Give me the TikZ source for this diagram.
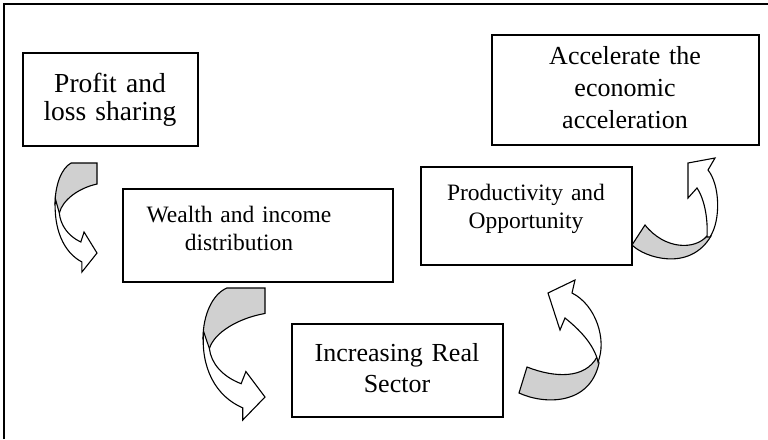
\documentclass[tikz,border=0pt]{standalone}
\usepackage{fontspec}
\setmainfont{Liberation Serif}
\definecolor{backgray}{RGB}{208,208,208}
\tikzset{
  box/.style={draw, line width=1.3pt, inner sep=0pt},
  bigtxt/.style={font=\fontsize{26}{31}\selectfont, text width=260pt, align=center, anchor=base, inner sep=0pt},
  smalltxt/.style={font=\fontsize{23.5}{28}\selectfont, text width=260pt, align=center, anchor=base, inner sep=0pt},
  arrowline/.style={draw, line width=1.1pt, line join=miter},
  backface/.style={arrowline, fill=backgray},
  frontface/.style={arrowline, fill=white},
  crarrow/.pic={
    \path[backface] (0.385,0) -- (1,0) -- (1,0.193) .. controls (0.564,0.229) and (0.179,0.339) .. (0.103,0.459) -- (0,0.385) .. controls (0,0.202) and (0.154,0.046) .. (0.385,0) -- cycle;
    \path[frontface] (0.01,0.33) .. controls (-0.04,0.6) and (0.2,0.82) .. (0.641,0.908) -- (0.641,1) -- (1,0.826) -- (0.692,0.633) -- (0.615,0.725) .. controls (0.31,0.67) and (0.13,0.57) .. (0.103,0.459) -- cycle;
  }
}
\begin{document}
\begin{tikzpicture}[x=1pt,y=-1pt]
\useasboundingbox (0,0) rectangle (768,439);
% outer frame (cut off at right and bottom)
\coordinate (fbl) at (4,439);
\coordinate (ftl) at (4,4);
\coordinate (ftr) at (768,4);
\draw[line width=2pt] (fbl) -- (ftl) -- (ftr);

% boxes
\node[box, minimum width=175pt, minimum height=93pt] (pbox) at (110.5,99.5) {};
\node[box, minimum width=270pt, minimum height=93pt] (wbox) at (258,235.5) {};
\node[box, minimum width=211pt, minimum height=93pt] (ibox) at (397.5,370.5) {};
\node[box, minimum width=211pt, minimum height=98pt] (prbox) at (526.5,216) {};
\node[box, minimum width=267pt, minimum height=110pt] (abox) at (625.5,90) {};

% texts
\node[bigtxt, font=\fontsize{27.5}{28}\selectfont] (ptxt) at (110,92) {Profit and\\loss sharing};
\node[smalltxt] (wtxt) at (239,222) {Wealth and income\\distribution};
\node[bigtxt] (itxt) at (397,361) {Increasing Real\\Sector};
\node[smalltxt] (prtxt) at (526,200) {Productivity and\\Opportunity};
\node[bigtxt, font=\fontsize{26}{32}\selectfont] (atxt) at (625,64) {Accelerate the\\economic\\acceleration};

% curved right arrows
\pic[xscale=42, yscale=109] at (55,163) {crarrow};
\pic[xscale=62, yscale=132] at (203,288) {crarrow};

% curved up arrow 3
\path[backface] (527,367) -- (519,393) .. controls (545,405) and (590,405) .. (599,363) -- (597,357) .. controls (585,379) and (555,378) .. (527,367) -- cycle;
\path[frontface] (598,362) .. controls (607,340) and (596,305) .. (572,293) -- (575,280) -- (548,293) -- (560,330) -- (565,318) .. controls (580,330) and (592,343) .. (597,358) -- cycle;

% curved up arrow 4
\path[backface] (645,225) -- (632,245) .. controls (645,258) and (690,272) .. (711,236) -- (707,236) .. controls (695,250) and (665,250) .. (645,225) -- cycle;
\path[frontface] (710,237) .. controls (721,220) and (720,185) .. (708,170) -- (715,158) -- (688,163) -- (688,198) -- (697,188) .. controls (705,200) and (708,220) .. (707,237) -- cycle;
\end{tikzpicture}
\end{document}
